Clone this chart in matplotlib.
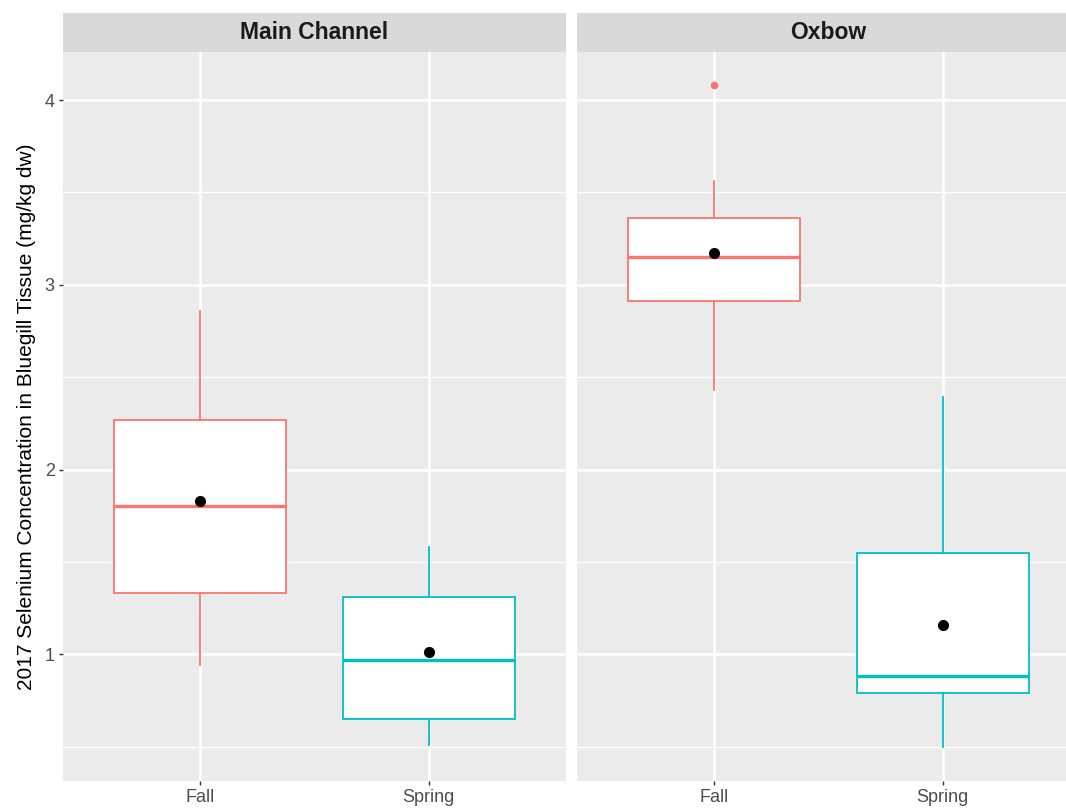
import matplotlib
matplotlib.use("Agg")
import matplotlib.pyplot as plt

# values (mg/kg dw)
sites = ["Main Channel", "Oxbow"]
seasons = ["Fall", "Spring"]
colors = ["#F8766D", "#00BFC4"]

whislo = [[0.94, 0.51], [2.43, 0.50]]
q1 = [[1.33, 0.65], [2.91, 0.79]]
med = [[1.80, 0.97], [3.15, 0.88]]
q3 = [[2.27, 1.31], [3.36, 1.55]]
whishi = [[2.86, 1.58], [3.56, 2.39]]
means = [[1.83, 1.01], [3.17, 1.16]]
fliers = [[[], []], [[4.08], []]]

yticks = [1, 2, 3, 4]
ylim = (0.314, 4.26)

plt.rcParams['font.family'] = ['Liberation Sans', 'DejaVu Sans']

fig = plt.figure(figsize=(10.66, 8.09), dpi=100)
W, H = 1066, 809

panel_left = [63, 577]
panel_w = 503
panel_top = 52
panel_bot = 781
strip_top = 13

for i, site in enumerate(sites):
    ax = fig.add_axes([panel_left[i] / W, 1 - panel_bot / H,
                       panel_w / W, (panel_bot - panel_top) / H])
    ax.set_facecolor("#EBEBEB")
    for s in ax.spines.values():
        s.set_visible(False)

    stats = []
    for j in range(2):
        stats.append(dict(whislo=whislo[i][j], q1=q1[i][j], med=med[i][j],
                          q3=q3[i][j], whishi=whishi[i][j],
                          fliers=fliers[i][j], mean=means[i][j]))
    bp = ax.bxp(stats, positions=[1, 2], widths=0.75, patch_artist=True,
                showcaps=False, showfliers=True, zorder=3)
    for j in range(2):
        bp['boxes'][j].set(facecolor="white", edgecolor=colors[j], linewidth=1.3)
        bp['medians'][j].set(color=colors[j], linewidth=2.4)
        bp['whiskers'][2 * j].set(color=colors[j], linewidth=1.3)
        bp['whiskers'][2 * j + 1].set(color=colors[j], linewidth=1.3)
        bp['fliers'][j].set(marker="o", markerfacecolor=colors[j],
                            markeredgecolor=colors[j], markersize=4.5)
        ax.plot([j + 1], [means[i][j]], "o", color="black", markersize=7, zorder=5)

    ax.set_xlim(0.4, 2.6)
    ax.set_ylim(*ylim)
    ax.set_yticks(yticks)
    ax.set_yticks([0.5, 1.5, 2.5, 3.5], minor=True)
    ax.set_xticks([1, 2])
    ax.set_xticklabels(seasons)
    ax.grid(True, which="major", color="white", linewidth=1.8, zorder=0)
    ax.grid(True, which="minor", axis="y", color="white", linewidth=0.9, zorder=0)
    ax.set_axisbelow(True)
    ax.tick_params(axis="both", which="major", colors="#333333", labelcolor="#4D4D4D",
                   labelsize=13, length=3, width=1, pad=3)
    ax.tick_params(axis="y", which="minor", length=0)
    if i == 0:
        ax.set_ylabel("2017 Selenium Concentration in Bluegill Tissue (mg/kg dw)",
                      fontsize=15, color="black", labelpad=6)
    else:
        ax.tick_params(axis="y", which="major", left=False, labelleft=False)

    sax = fig.add_axes([panel_left[i] / W, 1 - panel_top / H,
                        panel_w / W, (panel_top - strip_top) / H])
    sax.set_facecolor("#D9D9D9")
    sax.set_xticks([])
    sax.set_yticks([])
    for s in sax.spines.values():
        s.set_visible(False)
    sax.text(0.5, 0.5, site, transform=sax.transAxes, ha="center", va="center",
             fontsize=16.5, fontweight="bold", color="#1A1A1A")

fig.savefig("out.png", dpi=100)
